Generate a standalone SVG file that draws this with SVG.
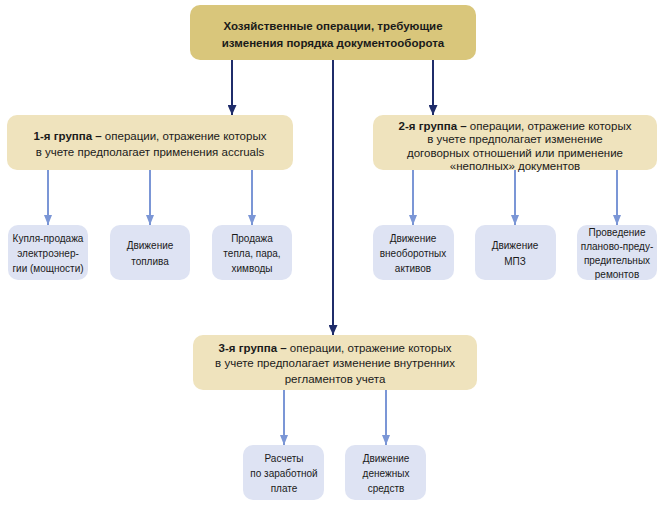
<svg xmlns="http://www.w3.org/2000/svg" width="662" height="512" viewBox="0 0 662 512">
<style>
.top{fill:#d9c67b}
.grp{fill:#efe3bd}
.leaf{fill:#dee3f3}
text{font-family:"Liberation Sans",Arial,sans-serif;fill:#1a1a1a;text-anchor:middle}
.tt{font-size:11.5px;font-weight:bold}
.gt{font-size:11.5px}
.lt{font-size:10px}
.dk{stroke:#1f2c6a;stroke-width:2;fill:none}
.lb{stroke:#7b96d6;stroke-width:2;fill:none}
</style>
<defs>
<marker id="al" markerWidth="10" markerHeight="8" refX="10" refY="4" orient="auto" markerUnits="userSpaceOnUse"><path d="M0,0 L10,4 L0,8 Z" fill="#7b96d6"/></marker>
<marker id="ad" markerWidth="10" markerHeight="9" refX="10" refY="4.5" orient="auto" markerUnits="userSpaceOnUse"><path d="M0,0 L10,4.5 L0,9 Z" fill="#1f2c6a"/></marker>
</defs>
<g id="connectors">
<line class="dk" x1="232" y1="60" x2="232" y2="115" marker-end="url(#ad)"/>
<line class="dk" x1="433" y1="60" x2="433" y2="115" marker-end="url(#ad)"/>
<line class="dk" x1="333" y1="60" x2="333" y2="335" marker-end="url(#ad)"/>
<line class="lb" x1="48" y1="170" x2="48" y2="225" marker-end="url(#al)"/>
<line class="lb" x1="150" y1="170" x2="150" y2="225" marker-end="url(#al)"/>
<line class="lb" x1="252" y1="170" x2="252" y2="225" marker-end="url(#al)"/>
<line class="lb" x1="413" y1="170" x2="413" y2="225" marker-end="url(#al)"/>
<line class="lb" x1="515" y1="170" x2="515" y2="225" marker-end="url(#al)"/>
<line class="lb" x1="617" y1="170" x2="617" y2="225" marker-end="url(#al)"/>
<line class="lb" x1="284" y1="390" x2="284" y2="445" marker-end="url(#al)"/>
<line class="lb" x1="386" y1="390" x2="386" y2="445" marker-end="url(#al)"/>
</g>
<g id="root">
<rect class="top" x="190" y="5" width="286" height="55" rx="10"/>
<text class="tt" x="333" y="30">Хозяйственные операции, требующие</text>
<text class="tt" x="333" y="47">изменения порядка документооборота</text>
</g>
<g id="group1">
<rect class="grp" x="7" y="115" width="286" height="55" rx="10"/>
<text class="gt" x="150" y="140"><tspan font-weight="bold">1-я группа –</tspan> операции, отражение которых</text>
<text class="gt" x="150" y="156">в учете предполагает применения accruals</text>
</g>
<g id="group2">
<rect class="grp" x="373" y="115" width="284" height="55" rx="10"/>
<text class="gt" x="515" y="130"><tspan font-weight="bold">2-я группа –</tspan> операции, отражение которых</text>
<text class="gt" x="515" y="143">в учете предполагает изменение</text>
<text class="gt" x="515" y="157">договорных отношений или применение</text>
<text class="gt" x="515" y="170">«неполных» документов</text>
</g>
<g id="group3">
<rect class="grp" x="193" y="335" width="284" height="55" rx="10"/>
<text class="gt" x="335" y="352"><tspan font-weight="bold">3-я группа –</tspan> операции, отражение которых</text>
<text class="gt" x="335" y="367">в учете предполагает изменение внутренних</text>
<text class="gt" x="335" y="383">регламентов учета</text>
</g>
<g id="leaf1">
<rect class="leaf" x="8" y="225" width="80" height="55" rx="10"/>
<text class="lt" x="48" y="242">Купля-продажа</text>
<text class="lt" x="48" y="257">электроэнер-</text>
<text class="lt" x="48" y="272">гии (мощности)</text>
</g>
<g id="leaf2">
<rect class="leaf" x="110" y="225" width="80" height="55" rx="10"/>
<text class="lt" x="150" y="249">Движение</text>
<text class="lt" x="150" y="265">топлива</text>
</g>
<g id="leaf3">
<rect class="leaf" x="212" y="225" width="80" height="55" rx="10"/>
<text class="lt" x="252" y="242">Продажа</text>
<text class="lt" x="252" y="257">тепла, пара,</text>
<text class="lt" x="252" y="272">химводы</text>
</g>
<g id="leaf4">
<rect class="leaf" x="373" y="225" width="81" height="55" rx="10"/>
<text class="lt" x="413" y="242">Движение</text>
<text class="lt" x="413" y="257">внеоборотных</text>
<text class="lt" x="413" y="272">активов</text>
</g>
<g id="leaf5">
<rect class="leaf" x="475" y="225" width="81" height="55" rx="10"/>
<text class="lt" x="515" y="249">Движение</text>
<text class="lt" x="515" y="265">МПЗ</text>
</g>
<g id="leaf6">
<rect class="leaf" x="577" y="225" width="80" height="55" rx="10"/>
<text class="lt" x="617" y="236">Проведение</text>
<text class="lt" x="617" y="250">планово-преду-</text>
<text class="lt" x="617" y="264">предительных</text>
<text class="lt" x="617" y="278">ремонтов</text>
</g>
<g id="leaf7">
<rect class="leaf" x="243" y="445" width="81" height="55" rx="10"/>
<text class="lt" x="284" y="462">Расчеты</text>
<text class="lt" x="284" y="477">по заработной</text>
<text class="lt" x="284" y="492">плате</text>
</g>
<g id="leaf8">
<rect class="leaf" x="345" y="445" width="81" height="55" rx="10"/>
<text class="lt" x="386" y="462">Движение</text>
<text class="lt" x="386" y="477">денежных</text>
<text class="lt" x="386" y="492">средств</text>
</g>
</svg>
